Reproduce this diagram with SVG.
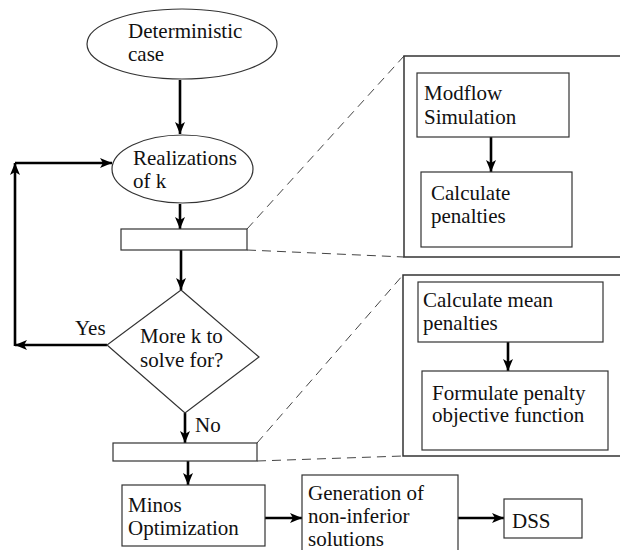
<svg xmlns="http://www.w3.org/2000/svg" width="620" height="550" viewBox="0 0 620 550">
<defs>
<marker id="ah" viewBox="0 0 12 10" refX="12" refY="5" markerWidth="12" markerHeight="10" markerUnits="userSpaceOnUse" orient="auto">
<path d="M0,0 L12,5 L0,10 L3,5 Z" fill="#000"/>
</marker>
</defs>
<style>
.sh{fill:#fff;stroke:#333;stroke-width:1.2}
.pn{fill:none;stroke:#333;stroke-width:1.5}
.ar{fill:none;stroke:#000;stroke-width:2.6;marker-end:url(#ah)}
.ds{fill:none;stroke:#444;stroke-width:1;stroke-dasharray:9,6}
.t{font-family:'Times New Roman','Liberation Serif',serif;font-size:21px;fill:#111}
</style>
<rect width="620" height="550" fill="#fff"/>
<g id="connectors">
<line class="ar" x1="180" y1="80" x2="180" y2="134"/>
<line class="ar" x1="180" y1="204" x2="180" y2="229"/>
<line class="ar" x1="181" y1="250" x2="181" y2="290"/>
<line class="ar" x1="185" y1="413" x2="185" y2="443"/>
<line class="ar" x1="188" y1="461" x2="188" y2="485"/>
<line class="ar" x1="107" y1="345" x2="15" y2="345"/>
<line class="ar" x1="15" y1="346" x2="15" y2="163"/>
<line class="ar" x1="15" y1="163" x2="112" y2="163"/>
<line class="ar" x1="265" y1="518" x2="302" y2="518"/>
<line class="ar" x1="458" y1="518" x2="504" y2="518"/>
<line class="ar" x1="491" y1="137" x2="491" y2="172"/>
<line class="ar" x1="508" y1="342" x2="508" y2="371"/>
<line class="ds" x1="247" y1="229" x2="404" y2="56"/>
<line class="ds" x1="247" y1="250" x2="404" y2="257"/>
<line class="ds" x1="257" y1="443" x2="403" y2="275"/>
<line class="ds" x1="257" y1="461" x2="403" y2="456"/>
</g>
<g id="deterministic">
<ellipse class="sh" cx="182" cy="44" rx="95" ry="35"/>
<text class="t" x="128" y="38" style="font-family:'Times New Roman'">Deterministic</text>
<text class="t" x="128" y="61" style="font-family:'Times New Roman'">case</text>
</g>
<g id="realizations">
<ellipse class="sh" cx="182.5" cy="169" rx="70.5" ry="34"/>
<text class="t" x="133" y="165" style="font-family:'Times New Roman'">Realizations</text>
<text class="t" x="133" y="188" style="font-family:'Times New Roman'">of k</text>
</g>
<g id="bar1"><rect class="sh" x="121" y="229" width="126" height="21"/></g>
<g id="decision">
<polygon class="sh" points="181,290 259,357 185,413 107,345"/>
<text class="t" x="140" y="343" style="font-family:'Times New Roman'">More k to</text>
<text class="t" x="140" y="367" style="font-family:'Times New Roman'">solve for?</text>
</g>
<g id="yes-label"><text class="t" x="75" y="335" style="font-family:'Times New Roman'">Yes</text></g>
<g id="no-label"><text class="t" x="195" y="432" style="font-family:'Times New Roman'">No</text></g>
<g id="bar2"><rect class="sh" x="113" y="443" width="144" height="18"/></g>
<g id="minos">
<rect class="sh" x="122" y="485" width="143" height="61"/>
<text class="t" x="128" y="512" style="font-family:'Times New Roman'">Minos</text>
<text class="t" x="128" y="535" style="font-family:'Times New Roman'">Optimization</text>
</g>
<g id="generation">
<rect class="sh" x="302" y="475" width="156" height="80"/>
<text class="t" x="308" y="500" style="font-family:'Times New Roman'">Generation of</text>
<text class="t" x="308" y="523" style="font-family:'Times New Roman'">non-inferior</text>
<text class="t" x="308" y="546" style="font-family:'Times New Roman'">solutions</text>
</g>
<g id="dss">
<rect class="sh" x="504" y="499" width="78" height="39"/>
<text class="t" x="512" y="528" style="font-family:'Times New Roman'">DSS</text>
</g>
<g id="panel1">
<path class="pn" d="M622,56 H404 V257 H622"/>
</g>
<g id="modflow">
<rect class="sh" x="417" y="73" width="152" height="64"/>
<text class="t" x="424" y="100" style="font-family:'Times New Roman'">Modflow</text>
<text class="t" x="424" y="124" style="font-family:'Times New Roman'">Simulation</text>
</g>
<g id="calc-penalties">
<rect class="sh" x="421" y="172" width="151" height="75"/>
<text class="t" x="431" y="200" style="font-family:'Times New Roman'">Calculate</text>
<text class="t" x="431" y="223" style="font-family:'Times New Roman'">penalties</text>
</g>
<g id="panel2">
<path class="pn" d="M622,275 H403 V456 H622"/>
</g>
<g id="calc-mean">
<rect class="sh" x="418" y="282" width="185" height="60"/>
<text class="t" x="423" y="307" style="font-family:'Times New Roman'">Calculate mean</text>
<text class="t" x="423" y="330" style="font-family:'Times New Roman'">penalties</text>
</g>
<g id="formulate">
<rect class="sh" x="422" y="371" width="186" height="79"/>
<text class="t" x="432" y="400" style="font-family:'Times New Roman'">Formulate penalty</text>
<text class="t" x="432" y="422" style="font-family:'Times New Roman'">objective function</text>
</g>
</svg>
